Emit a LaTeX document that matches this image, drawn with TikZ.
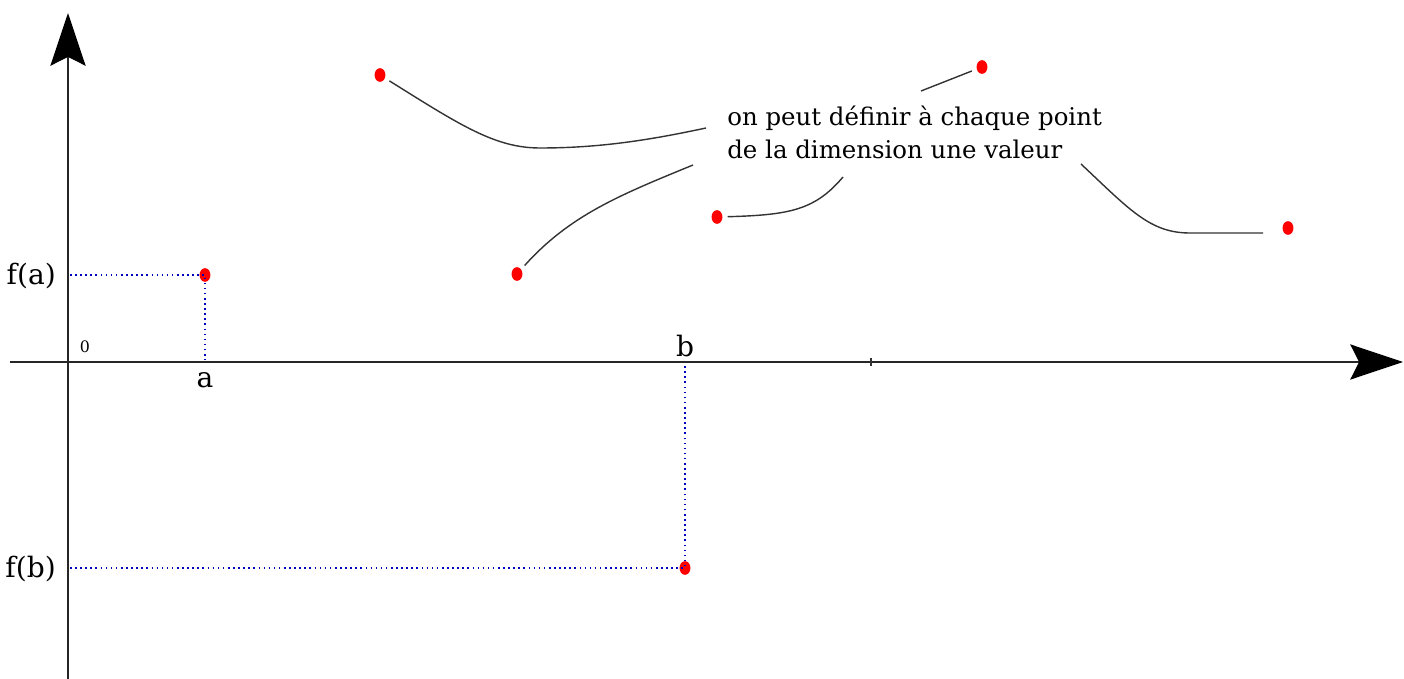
\documentclass[tikz,border=0pt]{standalone}
\usepackage{fontspec}
\setmainfont{DejaVu Serif}
\usetikzlibrary{arrows.meta,shapes.geometric}

\tikzset{
  axis/.style={line width=1.2pt,black!85,-{Stealth[length=30pt,width=20pt,inset=5pt,black]}},
  pt/.style={ellipse,fill=red,inner sep=0pt,minimum width=6.2pt,minimum height=7.8pt,outer sep=3pt},
  proj/.style={blue!75!black,dotted,line width=0.9pt},
  link/.style={black!80,line width=0.8pt},
  lbl/.style={font=\fontsize{16}{18}\selectfont}
}

\begin{document}
\begin{tikzpicture}[x=0.02cm,y=-0.02cm]
  \useasboundingbox (0,0) rectangle (1404,679);
  \draw[axis] (68,679) -- (68,13);
  \draw[axis] (10,362) -- (1403,362);
  \draw[black!80,line width=0.8pt] (871,358) -- (871,366);
  \node[font=\fontsize{9}{10}\selectfont] (zero) at (85,347) {0};
  \node[pt] (pa) at (205,275) {};
  \node[pt] (pb) at (685,568) {};
  \node[pt] (p1) at (380,75) {};
  \node[pt] (p2) at (517,274) {};
  \node[pt] (p3) at (717,217) {};
  \node[pt] (p4) at (982,67) {};
  \node[pt] (p5) at (1288,228) {};
  \node[lbl] (la) at (205,380) {a};
  \node[lbl] (lb) at (685,346) {b};
  \node[lbl,anchor=east] (fa) at (62,276) {f(a)};
  \node[lbl,anchor=east] (fb) at (62,569) {f(b)};
  \coordinate (ya) at (70,275);
  \coordinate (yb) at (70,568);
  \coordinate (xa) at (205,360);
  \coordinate (xb) at (685,366);
  \draw[proj] (ya) -- (pa.center) -- (xa);
  \draw[proj] (yb) -- (pb.center) -- (xb);
  \node[anchor=north west,align=left,inner sep=0pt,font=\fontsize{13.9}{18.5}\selectfont] (note) at (727,106)
    {on peut définir à chaque point\\de la dimension une valeur};
  \coordinate (c1) at (706,128);
  \coordinate (c2) at (693,165);
  \coordinate (c3) at (843,177);
  \coordinate (c4) at (921,91);
  \coordinate (c5) at (1081,164);
  \coordinate (e5) at (1263,233);
  \draw[link] (p1) .. controls (460,125) and (495,148) .. (540,148) .. controls (600,148) and (650,140) .. (c1);
  \draw[link] (p2) .. controls (570,215) and (620,195) .. (c2);
  \draw[link] (p3) .. controls (790,215) and (815,210) .. (c3);
  \draw[link] (p4) -- (c4);
  \draw[link] (e5) -- (1190,233) .. controls (1150,233) and (1130,210) .. (c5);
\end{tikzpicture}
\end{document}
